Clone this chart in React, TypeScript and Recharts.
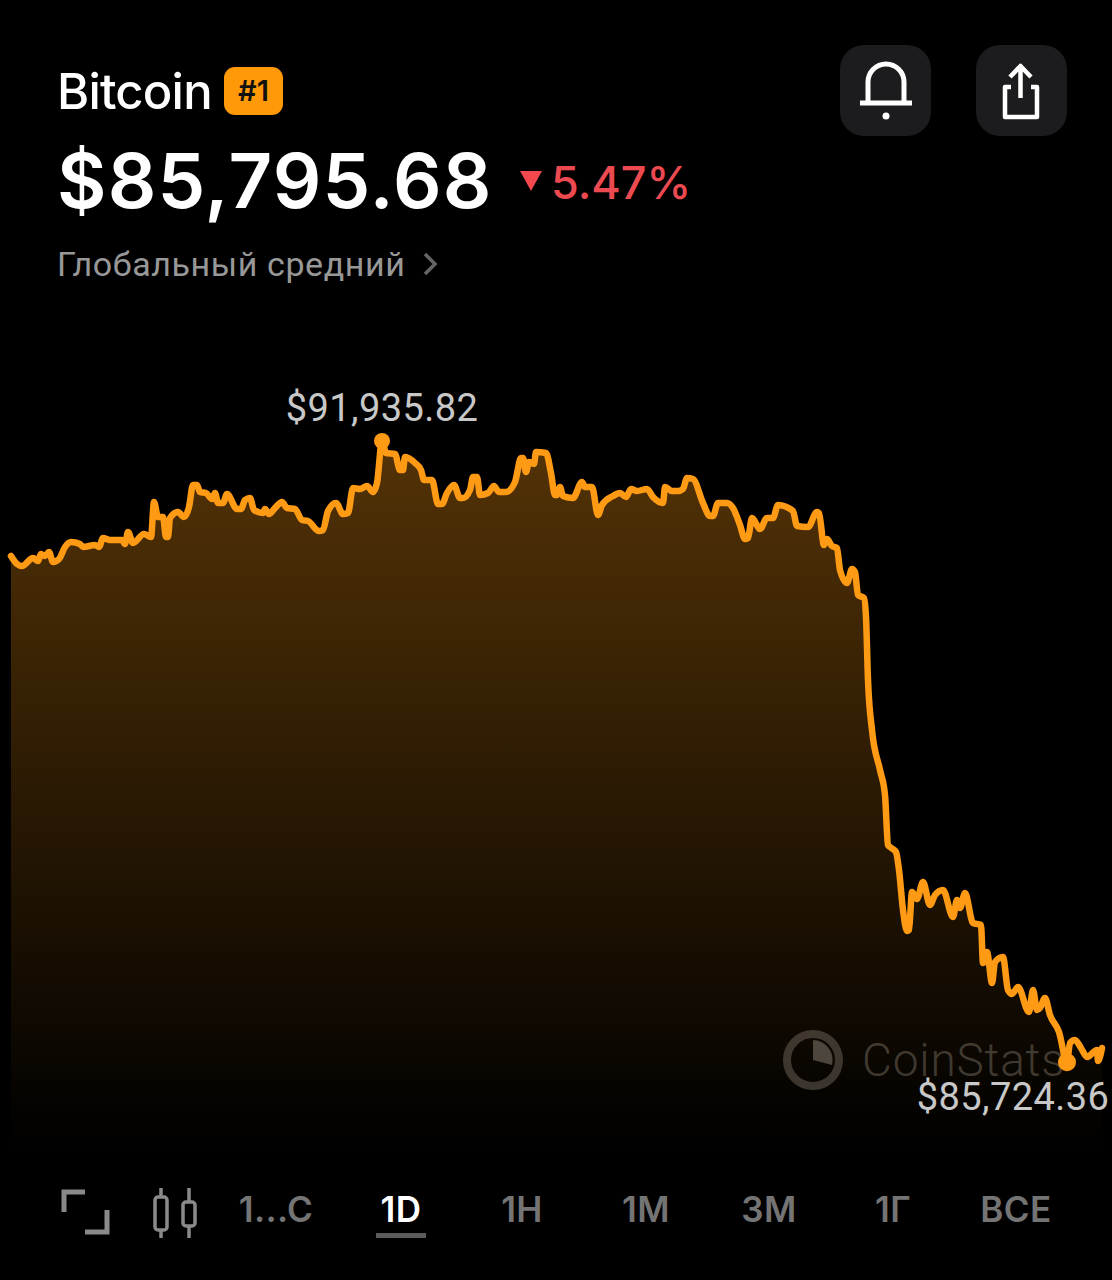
import { Area, ComposedChart, Label, ReferenceDot, XAxis, YAxis } from "recharts"

const timeSteps = [
  0, 6, 11, 22, 27, 30, 34, 38, 42, 48, 54, 60, 69, 72, 84, 88, 92, 99, 111, 114, 117, 122, 133, 140, 143, 147, 152, 155,
  157, 159, 167, 173, 178, 182, 186, 189, 195, 201, 204, 207, 212, 216, 226, 230, 234, 239, 243, 252, 254, 258, 264, 271,
  276, 284, 291, 297, 308, 312, 317, 325, 332, 337, 342, 349, 356, 362, 366, 371, 375, 384, 389, 392, 394, 404, 410, 413,
  421, 427, 431, 436, 443, 449, 452, 459, 462, 466, 469, 477, 483, 488, 495, 504, 510, 512, 515, 518, 523, 525, 535, 540,
  544, 546, 549, 552, 562, 571, 574, 581, 587, 591, 602, 609, 615, 620, 626, 636, 642, 652, 654, 661, 667, 672, 676, 682,
  692, 699, 702, 707, 716, 722, 729, 734, 737, 741, 749, 756, 762, 767, 782, 786, 797, 806, 808, 813, 816, 821, 826, 829,
  836, 841, 844, 847, 853, 855, 857, 861, 869, 874, 877, 879, 885, 888, 892, 896, 898, 901, 906, 912, 919, 924, 932, 942,
  946, 949, 954, 962, 970, 972, 976, 981, 984, 992, 997, 1001, 1007, 1018, 1022, 1026, 1029, 1034, 1039, 1048, 1056, 1059,
  1064, 1070, 1076, 1086, 1087, 1091,
]

const prices = [
  90786, 90706, 90686, 90766, 90736, 90806, 90786, 90826, 90726, 90756, 90876, 90926, 90906, 90876, 90896, 90876, 90966,
  90946, 90946, 90906, 91026, 90916, 91006, 90976, 91326, 91176, 91176, 90976, 90976, 91166, 91226, 91176, 91276, 91496,
  91496, 91426, 91416, 91356, 91416, 91316, 91316, 91406, 91256, 91256, 91346, 91366, 91246, 91216, 91256, 91206, 91266,
  91326, 91266, 91256, 91146, 91136, 91036, 91046, 91236, 91316, 91206, 91216, 91466, 91456, 91486, 91426, 91516, 91935.82,
  91816, 91806, 91646, 91646, 91776, 91716, 91646, 91546, 91546, 91306, 91306, 91416, 91496, 91366, 91366, 91446, 91576,
  91576, 91396, 91416, 91486, 91426, 91426, 91526, 91766, 91766, 91626, 91726, 91706, 91826, 91816, 91616, 91396, 91396,
  91476, 91386, 91366, 91526, 91476, 91476, 91196, 91296, 91386, 91416, 91376, 91456, 91436, 91456, 91376, 91316, 91476,
  91436, 91436, 91456, 91566, 91556, 91316, 91186, 91186, 91316, 91316, 91266, 91096, 90956, 90966, 91166, 91056, 91166,
  91166, 91296, 91236, 91086, 91076, 91226, 91216, 90896, 90956, 90886, 90866, 90646, 90516, 90656, 90626, 90396, 90366,
  90176, 89546, 89046, 88646, 88396, 87896, 87876, 87826, 87646, 87246, 87036, 87046, 87426, 87356, 87526, 87296, 87396,
  87446, 87176, 87346, 87266, 87416, 87116, 87096, 86716, 86826, 86516, 86726, 86776, 86446, 86406, 86476, 86226, 86446,
  86246, 86266, 86366, 86196, 86026, 85724.36, 85916, 85946, 85866, 85776, 85846, 85736, 85866,
]

const highTime = 371
const highPrice = 91935.82
const lowTime = 1056
const lowPrice = 85724.36

const periods = ["1...C", "1D", "1H", "1M", "3M", "1Г", "ВСЕ"]
const periodCenters = [276, 401, 522, 646, 769, 893, 1016]

const chartData = timeSteps.map((t, i) => ({ t, price: prices[i] }))

const ORANGE = "#FF9A14"
const font = "Inter, Roboto, sans-serif"

const text = (left: number, top: number, size: number, color: string, weight = 400, extra = {}) => ({
  position: "absolute" as const,
  left,
  top,
  fontSize: size,
  lineHeight: `${size}px`,
  color,
  fontWeight: weight,
  fontFamily: font,
  whiteSpace: "nowrap" as const,
  ...extra,
})

function Header() {
  return (
    <>
      <div style={text(57, 67, 49, "#fff", 500, { letterSpacing: -0.8 })}>Bitcoin</div>
      <div
        style={{
          position: "absolute",
          left: 224,
          top: 67,
          width: 59,
          height: 48,
          borderRadius: 11,
          background: "#FF9908",
          color: "#111",
          fontFamily: font,
          fontSize: 29,
          fontWeight: 600,
          lineHeight: "48px",
          textAlign: "center",
        }}
      >
        #1
      </div>
      <div style={text(57, 142, 76, "#fff", 600, { letterSpacing: 1.2 })}>$85,795.68</div>
      <div style={text(551, 160, 45, "#EC4A50", 500)}>5.47%</div>
      <div style={text(57, 247, 34, "#989898", 400, { fontFamily: "Roboto, sans-serif", letterSpacing: 0.6 })}>
        Глобальный средний
      </div>
      <svg width={1112} height={300} style={{ position: "absolute", left: 0, top: 0 }}>
        <path d="M520 171 H542 L531 191 Z" fill="#F2484E" />
        <path d="M425 254 L435 264 L425 274" fill="none" stroke="#666" strokeWidth={3.5} />
        <rect x={840} y={45} width={91} height={91} rx={24} fill="#1C1C1E" />
        <rect x={976} y={45} width={91} height={91} rx={24} fill="#1C1C1E" />
        <path d="M860 103 H912 M868 103 V82 A18 18 0 0 1 904 82 V103" fill="none" stroke="#fff" strokeWidth={5} />
        <circle cx={886} cy={116} r={3.5} fill="#fff" />
        <path
          d="M1011 87 H1005 V117 H1037 V87 H1031 M1020.5 98 V66 M1010 77 L1020.5 66 L1031 77"
          fill="none"
          stroke="#fff"
          strokeWidth={4.5}
          strokeLinejoin="round"
        />
      </svg>
    </>
  )
}

function Watermark() {
  return (
    <>
      <svg width={70} height={70} style={{ position: "absolute", left: 778, top: 1025 }}>
        <circle cx={35} cy={35} r={26} fill="none" stroke="#35322f" strokeWidth={8} />
        <path d="M35 15 A20 20 0 0 1 54 40 L35 35 Z" fill="#45423e" />
      </svg>
      <div
        style={text(862, 1042, 46, "#383531", 300, {
          fontFamily: "Roboto, sans-serif",
          letterSpacing: 0.8,
          lineHeight: "36px",
        })}
      >
        CoinStats
      </div>
    </>
  )
}

function Toolbar() {
  return (
    <>
      <svg width={1112} height={100} style={{ position: "absolute", left: 0, top: 1170 }}>
        <path d="M85 22 H64 V42 M107 40 V62 H85" fill="none" stroke="#8a8a8a" strokeWidth={5} />
        <path d="M161 18 V27 M161 60 V68 M189 18 V32 M189 56 V68" stroke="#8a8a8a" strokeWidth={3.5} />
        <rect x={155} y={27} width={12} height={33} rx={3} fill="none" stroke="#8a8a8a" strokeWidth={3.5} />
        <rect x={183} y={32} width={12} height={24} rx={3} fill="none" stroke="#8a8a8a" strokeWidth={3.5} />
        <rect x={376} y={63} width={50} height={5} fill="#5a5a5a" />
      </svg>
      {periods.map((p, i) => (
        <div
          key={p}
          style={text(periodCenters[i], 1192, 35, p === "1D" ? "#fff" : "#747474", 600, {
            transform: "translateX(-50%)",
            letterSpacing: 0.4,
          })}
        >
          {p}
        </div>
      ))}
    </>
  )
}

export default function App() {
  return (
    <div style={{ position: "absolute", left: 0, top: 0, width: 1112, height: 1280, background: "#000", overflow: "hidden" }}>
      <style>{"body{margin:0;background:#000}"}</style>
      <Header />
      <Watermark />
      <div style={{ position: "absolute", left: 0, top: 0 }}>
        <ComposedChart width={1112} height={1280} data={chartData} margin={{ top: 400, right: 10, bottom: 130, left: 11 }}>
          <defs>
            <linearGradient id="btcFill" x1="0" y1="0" x2="0" y2="1">
              <stop offset="0%" stopColor={ORANGE} stopOpacity={0.33} />
              <stop offset="100%" stopColor={ORANGE} stopOpacity={0} />
            </linearGradient>
          </defs>
          <XAxis dataKey="t" type="number" domain={[0, 1091]} hide />
          <YAxis type="number" domain={[84846, 92346]} hide width={0} />
          <Area
            type="monotone"
            dataKey="price"
            stroke={ORANGE}
            strokeWidth={6.5}
            strokeLinejoin="round"
            strokeLinecap="round"
            fill="url(#btcFill)"
            fillOpacity={1}
            dot={false}
            activeDot={false}
            isAnimationActive={false}
          />
          <ReferenceDot x={highTime} y={highPrice} r={8} fill={ORANGE} stroke="none">
            <Label value="$91,935.82" position="top" offset={12} fill="#C8C8C8" fontSize={38} letterSpacing={0.4} fontFamily="Roboto, sans-serif" />
          </ReferenceDot>
          <ReferenceDot x={lowTime} y={lowPrice} r={9} fill={ORANGE} stroke="none">
            <Label value="$85,724.36" position="bottom" dx={-54} offset={12} fill="#C8C8C8" fontSize={38} letterSpacing={0.4} fontFamily="Roboto, sans-serif" />
          </ReferenceDot>
        </ComposedChart>
      </div>
      <Toolbar />
    </div>
  )
}
